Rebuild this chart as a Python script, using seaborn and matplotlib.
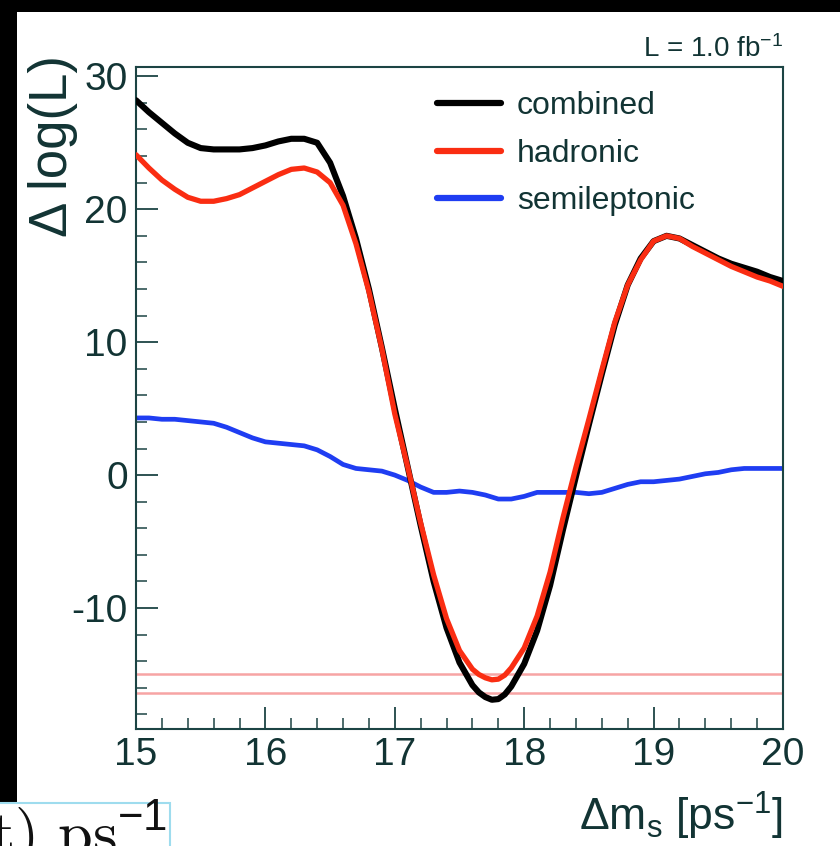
import numpy as np
import pandas as pd
import matplotlib
matplotlib.use("Agg")
import matplotlib.pyplot as plt
import seaborn as sns
from matplotlib.patches import Rectangle
from matplotlib.ticker import MultipleLocator

# ---------------- data ----------------
dm = [15.0, 15.1, 15.2, 15.3, 15.4, 15.5, 15.6, 15.7, 15.8, 15.9,
      16.0, 16.1, 16.2, 16.3, 16.4, 16.5, 16.6, 16.7, 16.8, 16.9,
      17.0, 17.1, 17.2, 17.3, 17.4, 17.5, 17.6, 17.65, 17.7, 17.75, 17.8, 17.85, 17.9,
      18.0, 18.1, 18.2, 18.3, 18.4, 18.5, 18.6, 18.7, 18.8, 18.9,
      19.0, 19.1, 19.2, 19.3, 19.4, 19.5, 19.6, 19.7, 19.8, 19.9, 20.0]

combined = [28.2, 27.3, 26.5, 25.7, 25.0, 24.6, 24.5, 24.5, 24.5, 24.6,
            24.8, 25.1, 25.3, 25.3, 25.0, 23.5, 21.0, 17.8, 14.0, 9.6,
            5.0, 0.6, -3.8, -8.0, -11.5, -14.1, -15.8, -16.35, -16.7, -16.9, -16.85, -16.5, -15.9,
            -14.2, -11.7, -8.3, -4.1, -0.1, 3.8, 7.6, 11.3, 14.3, 16.3,
            17.6, 18.0, 17.8, 17.3, 16.8, 16.3, 15.9, 15.6, 15.3, 14.9, 14.6]

hadronic = [24.1, 23.1, 22.2, 21.5, 20.9, 20.6, 20.6, 20.8, 21.1, 21.6,
            22.1, 22.6, 23.0, 23.1, 22.8, 22.0, 20.3, 17.4, 13.8, 9.5,
            4.6, 0.6, -3.6, -7.5, -10.8, -13.2, -14.6, -15.0, -15.25, -15.4, -15.35, -15.05, -14.5,
            -13.0, -10.6, -7.3, -3.2, 0.6, 4.2, 7.9, 11.5, 14.3, 16.2,
            17.6, 18.0, 17.8, 17.2, 16.7, 16.2, 15.7, 15.3, 14.9, 14.6, 14.2]

dm_semi = [15.0, 15.1, 15.2, 15.3, 15.4, 15.5, 15.6, 15.7, 15.8, 15.9,
           16.0, 16.1, 16.2, 16.3, 16.4, 16.5, 16.6, 16.7, 16.8, 16.9,
           17.0, 17.1, 17.2, 17.3, 17.4, 17.5, 17.6, 17.7, 17.8, 17.9,
           18.0, 18.1, 18.2, 18.3, 18.4, 18.5, 18.6, 18.7, 18.8, 18.9,
           19.0, 19.1, 19.2, 19.3, 19.4, 19.5, 19.6, 19.7, 19.8, 19.9, 20.0]

semileptonic = [4.3, 4.3, 4.2, 4.2, 4.1, 4.0, 3.9, 3.6, 3.2, 2.8,
                2.5, 2.4, 2.3, 2.2, 1.9, 1.4, 0.8, 0.5, 0.4, 0.3,
                0.0, -0.4, -0.9, -1.3, -1.3, -1.2, -1.3, -1.5, -1.8, -1.8,
                -1.6, -1.3, -1.3, -1.3, -1.3, -1.4, -1.3, -1.0, -0.7, -0.5,
                -0.5, -0.4, -0.3, -0.1, 0.1, 0.2, 0.4, 0.5, 0.5, 0.5, 0.5]

series_names = ["combined", "hadronic", "semileptonic"]
series_colors = {"combined": "#000000", "hadronic": "#fa2d12", "semileptonic": "#1f3df2"}
ref_levels = [-15.0, -16.4]
x_ticks = [15, 16, 17, 18, 19, 20]
y_ticks = [-10, 0, 10, 20, 30]
lumi_text = "L = 1.0 fb$^{\\mathregular{-1}}$"
x_title = "Δm$_{\\mathregular{s}}$ [ps$^{\\mathregular{-1}}$]"
y_title = "Δ log(L)"
box_text = r"$\mathrm{st)\ ps}^{-1}$"

# ---------------- style ----------------
sns.set_theme(style="white")
plt.rcParams['font.family'] = ['Liberation Sans', 'DejaVu Sans']
plt.rcParams['mathtext.default'] = 'regular'
plt.rcParams['axes.unicode_minus'] = False

ink = "#123434"
spine_col = "#1c4444"

fig = plt.figure(figsize=(8.4, 8.46), dpi=100)
fig.patch.set_facecolor("white")
W, H = 840.0, 846.0
ax_l, ax_r, ax_t, ax_b = 136, 783, 67, 729
ax = fig.add_axes([ax_l / W, 1 - ax_b / H, (ax_r - ax_l) / W, (ax_b - ax_t) / H])

for y in ref_levels:
    ax.axhline(y, color="#f7a4a4", lw=1.8, zorder=1)

sns.lineplot(x=dm_semi, y=semileptonic, color=series_colors["semileptonic"],
             lw=3.4, ax=ax, label="semileptonic", zorder=2, estimator=None)
sns.lineplot(x=dm, y=combined, color=series_colors["combined"],
             lw=4.4, ax=ax, label="combined", zorder=3, estimator=None)
sns.lineplot(x=dm, y=hadronic, color=series_colors["hadronic"],
             lw=3.8, ax=ax, label="hadronic", zorder=4, estimator=None)

ax.set_xlim(15, 20)
ax.set_ylim(-19.1, 30.7)
ax.set_xticks(x_ticks)
ax.set_yticks(y_ticks)
ax.xaxis.set_minor_locator(MultipleLocator(0.2))
ax.yaxis.set_minor_locator(MultipleLocator(2))
ax.tick_params(which="both", direction="in", top=False, right=False,
               left=True, bottom=True, colors=spine_col, labelcolor=ink,
               labelsize=28)
ax.tick_params(which="major", length=16, width=1.3, pad=6)
ax.tick_params(which="minor", length=8, width=1.1)
for s in ax.spines.values():
    s.set_color(spine_col)
    s.set_linewidth(1.5)
ax.set_xlabel("")
ax.set_ylabel("")

handles, labels = ax.get_legend_handles_labels()
order = [labels.index(n) for n in series_names]
leg = ax.legend([handles[i] for i in order], [labels[i] for i in order],
                loc="upper left", bbox_to_anchor=((437 - ax_l) / (ax_r - ax_l), 0.963),
                frameon=False, fontsize=23, handlelength=2.0, handletextpad=0.5,
                labelspacing=0.54, borderaxespad=0, borderpad=0)
for t in leg.get_texts():
    t.set_color(ink)
for lh in leg.get_lines():
    lh.set_linewidth(4.5)

# titles
fig.text(53 / W, 1 - 55 / H, y_title, rotation=90, ha="center", va="top",
         fontsize=38, color=ink)
fig.text(783 / W, 1 - 831 / H, x_title, ha="right", va="baseline",
         fontsize=32, color=ink)
fig.text(783 / W, 1 - 57 / H, lumi_text, ha="right", va="baseline",
         fontsize=20, color=ink)

# slide remnants: black frame strips and a cropped boxed formula
fig.patches.append(Rectangle((0, 1 - 12 / H), 1, 12 / H, transform=fig.transFigure,
                             facecolor="black", edgecolor="none", zorder=0))
fig.patches.append(Rectangle((0, 1 - 802 / H), 17 / W, 802 / H, transform=fig.transFigure,
                             facecolor="black", edgecolor="none", zorder=0))
fig.patches.append(Rectangle((-2 / W, -2 / H), 172 / W, (846 - 803 + 2) / H,
                             transform=fig.transFigure, facecolor="white",
                             edgecolor="#9edcee", lw=1.5, zorder=0))
fig.text(167 / W, 1 - 854 / H, box_text, ha="right", va="baseline",
         fontsize=45, color="#111111", math_fontfamily="cm")

fig.savefig("out.png", dpi=100, facecolor="white")
